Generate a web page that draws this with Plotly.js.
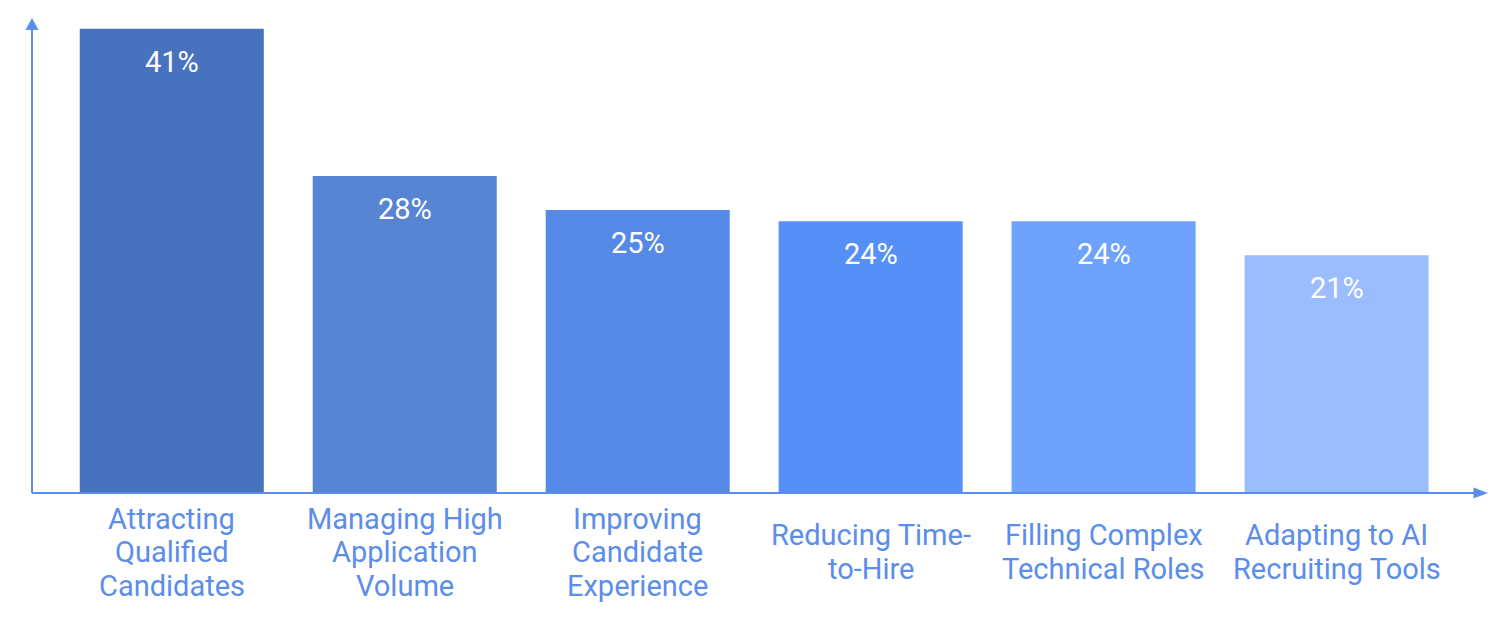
<!DOCTYPE html>
<html>
<head>
<meta charset="utf-8">
<script src="https://cdn.plot.ly/plotly-3.0.1.min.js"></script>
<style>html,body{margin:0;padding:0;background:#fff;}#chart{width:1506px;height:630px;}</style>
</head>
<body>
<div id="chart"></div>
<script>
const categories = [
  "Attracting<br>Qualified<br>Candidates",
  "Managing High<br>Application<br>Volume",
  "Improving<br>Candidate<br>Experience",
  "Reducing Time-<br>to-Hire",
  "Filling Complex<br>Technical Roles",
  "Adapting to AI<br>Recruiting Tools"
];
const values = [41, 28, 25, 24, 24, 21];
const valueLabels = ["41%", "28%", "25%", "24%", "24%", "21%"];
const barColors = ["#4872BD", "#5784D3", "#5689E6", "#5690F7", "#6EA2FC", "#9BBDFE"];

const xIdx = categories.map((c, i) => i);
const axisColor = "#5B8DEB";
const font = "Roboto, 'Open Sans', sans-serif";
const lineStep = 33.5;

const annotations = [];
xIdx.forEach(i => {
  annotations.push({
    x: i, y: values[i], xref: 'x', yref: 'y',
    text: valueLabels[i], showarrow: false,
    yanchor: 'middle', yshift: -33,
    font: {family: font, size: 29, color: '#ffffff'}
  });
  const lines = categories[i].split('<br>');
  const n = lines.length;
  lines.forEach((ln, k) => {
    annotations.push({
      x: i, y: 0, xref: 'x', yref: 'y',
      text: ln, showarrow: false,
      yanchor: 'middle', yshift: -59 - (k - (n - 1) / 2) * lineStep,
      font: {family: font, size: 29, color: axisColor}
    });
  });
});

const shapes = [
  {type: 'line', xref: 'paper', yref: 'paper', x0: 0, x1: 0, y0: 0, y1: 0.985, line: {color: axisColor, width: 2}},
  {type: 'line', xref: 'paper', yref: 'paper', x0: 0, x1: 0.992, y0: 0, y1: 0, line: {color: axisColor, width: 2}},
  {type: 'path', xref: 'paper', yref: 'paper', path: 'M -0.0045 0.975 L 0.0045 0.975 L 0 1.0 Z', fillcolor: axisColor, line: {width: 0}},
  {type: 'path', xref: 'paper', yref: 'paper', path: 'M 0.99 -0.0115 L 0.99 0.0115 L 1.0 0 Z', fillcolor: axisColor, line: {width: 0}}
];

const trace = {
  type: 'bar',
  x: xIdx,
  y: values,
  marker: {color: barColors, line: {width: 0}},
  hoverinfo: 'none'
};

const layout = {
  width: 1506, height: 630,
  margin: {l: 32, r: 18, t: 18, b: 137},
  paper_bgcolor: '#ffffff', plot_bgcolor: '#ffffff',
  bargap: 0.21,
  showlegend: false,
  xaxis: {range: [-0.6, 5.65], showgrid: false, zeroline: false, showline: false, showticklabels: false, ticks: ''},
  yaxis: {range: [0, 41.95], showgrid: false, zeroline: false, showline: false, showticklabels: false, ticks: ''},
  annotations: annotations,
  shapes: shapes
};

Plotly.newPlot('chart', [trace], layout, {displayModeBar: false, staticPlot: true});
</script>
</body>
</html>
